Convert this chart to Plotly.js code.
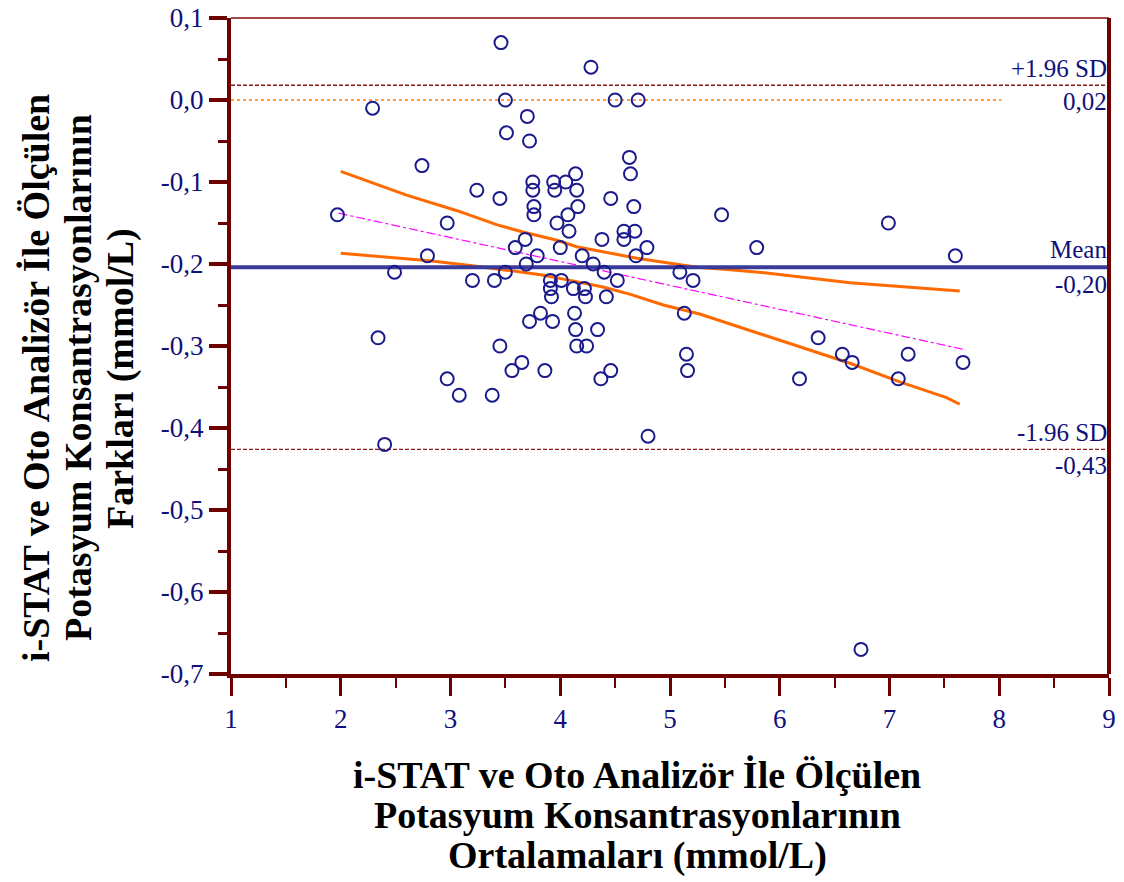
<!DOCTYPE html>
<html>
<head>
<meta charset="utf-8">
<script src="https://cdn.plot.ly/plotly-3.0.1.min.js"></script>
<style>html,body{margin:0;padding:0;background:#fff}#chart{width:1124px;height:882px}</style>
</head>
<body>
<div id="chart"></div>
<script>
// Bland-Altman data: averages (x) and differences (y)
const meanX = [1.97,2.29,2.34,2.40,2.49,2.74,2.79,2.97,2.97,3.08,3.20,3.24,3.38,3.40,3.45,3.45,3.46,3.50,3.50,3.51,
  3.56,3.59,3.65,3.68,3.69,3.70,3.72,3.72,3.75,3.75,3.76,3.76,3.79,3.82,3.86,3.91,3.91,3.92,3.93,3.94,
  3.95,3.97,4.00,4.01,4.05,4.07,4.08,4.12,4.13,4.14,4.15,4.16,4.14,4.15,4.20,4.22,4.23,4.24,4.28,4.30,
  4.34,4.37,4.38,4.40,4.42,4.46,4.46,4.50,4.52,4.58,4.58,4.63,4.64,4.67,4.68,4.69,4.71,4.79,4.80,5.09,
  5.13,5.15,5.16,5.21,5.47,5.79,6.18,6.35,6.57,6.66,6.74,6.99,7.08,7.17,7.60,7.67];
const diffY = [-0.14,-0.01,-0.29,-0.42,-0.21,-0.08,-0.19,-0.15,-0.34,-0.36,-0.22,-0.11,-0.36,-0.22,-0.12,-0.30,0.07,-0.21,0.00,-0.04,
  -0.33,-0.18,-0.32,-0.17,-0.20,-0.02,-0.05,-0.27,-0.10,-0.11,-0.13,-0.14,-0.19,-0.26,-0.33,-0.22,-0.23,-0.24,-0.27,-0.10,
  -0.11,-0.15,-0.18,-0.22,-0.10,-0.14,-0.16,-0.23,-0.26,-0.09,-0.11,-0.13,-0.28,-0.30,-0.19,-0.23,-0.24,-0.30,0.04,-0.20,
  -0.28,-0.34,-0.17,-0.21,-0.24,-0.12,-0.33,0.00,-0.22,-0.16,-0.17,-0.07,-0.09,-0.13,-0.16,-0.19,0.00,-0.18,-0.41,-0.21,
  -0.26,-0.31,-0.33,-0.22,-0.14,-0.18,-0.34,-0.29,-0.31,-0.32,-0.67,-0.15,-0.34,-0.31,-0.19,-0.32];

// Reference lines
const axisX = [1, 9];
const meanDiff = -0.204;
const upperLoA = 0.018;
const lowerLoA = -0.426;
const zeroLineX = [1, 8.02];
const zeroLineY = [0, 0];

// Regression line
const regX = [1.98, 7.67];
const regY = [-0.138, -0.304];

// Confidence band curves
const upperBandX = [2.00,2.27,2.60,3.06,3.42,3.66,3.97,4.15,4.39,4.70,5.00,5.25,5.55,5.88,6.64,7.28,7.64];
const upperBandY = [-0.087,-0.100,-0.116,-0.135,-0.152,-0.161,-0.171,-0.179,-0.185,-0.193,-0.199,-0.204,-0.207,-0.211,-0.223,-0.229,-0.233];
const lowerBandX = [2.00,2.45,2.81,3.20,3.57,3.82,4.09,4.39,4.64,4.94,5.27,5.73,6.18,6.64,7.10,7.52,7.64];
const lowerBandY = [-0.187,-0.192,-0.196,-0.202,-0.209,-0.213,-0.220,-0.228,-0.237,-0.250,-0.261,-0.281,-0.301,-0.321,-0.344,-0.363,-0.371];

// Tick labels
const xTickVals = [1,2,3,4,5,6,7,8,9];
const xTickText = ['1','2','3','4','5','6','7','8','9'];
const yTickVals = [0.1,0,-0.1,-0.2,-0.3,-0.4,-0.5,-0.6,-0.7];
const yTickText = ['0,1','0,0','-0,1','-0,2','-0,3','-0,4','-0,5','-0,6','-0,7'];

const labelUpper = ['+1.96 SD', '0,02'];
const labelMean = ['Mean', '-0,20'];
const labelLower = ['-1.96 SD', '-0,43'];

const xTitleLines = ['i-STAT ve Oto Analizör İle Ölçülen', 'Potasyum Konsantrasyonlarının', 'Ortalamaları (mmol/L)'];
const yTitleLines = ['i-STAT ve Oto Analizör İle Ölçülen', 'Potasyum Konsantrasyonlarının', 'Farkları (mmol/L)'];

const serif = 'Liberation Serif, Times New Roman, serif';
const navy = '#10107a';
const maroon = '#6e0000';

const traces = [
  {x: zeroLineX, y: zeroLineY, mode: 'lines', line: {color: '#ff7f00', width: 1.5, dash: 'dot'}, hoverinfo: 'skip'},
  {x: axisX, y: [upperLoA, upperLoA], mode: 'lines', line: {color: '#8b1a1a', width: 1.3, dash: '4px,2px'}, hoverinfo: 'skip'},
  {x: axisX, y: [lowerLoA, lowerLoA], mode: 'lines', line: {color: '#8b1a1a', width: 1.3, dash: '4px,2px'}, hoverinfo: 'skip'},
  {x: regX, y: regY, mode: 'lines', line: {color: '#ff00ff', width: 1.2, dash: 'dashdot'}, hoverinfo: 'skip'},
  {x: upperBandX, y: upperBandY, mode: 'lines', line: {color: '#ff6a00', width: 3}, hoverinfo: 'skip'},
  {x: lowerBandX, y: lowerBandY, mode: 'lines', line: {color: '#ff6a00', width: 3}, hoverinfo: 'skip'},
  {x: axisX, y: [meanDiff, meanDiff], mode: 'lines', line: {color: '#3a3a9a', width: 4}, hoverinfo: 'skip'},
  {x: meanX, y: diffY, mode: 'markers', marker: {symbol: 'circle-open', size: 13, color: '#1a1a8c', line: {width: 2}}}
];

const annFont = {family: serif, size: 25, color: navy};
const titleFont = {family: serif, size: 38, color: '#000000'};
const pw = 1124 - 231 - 15, ph = 882 - 18 - 208;
const px2x = p => (p - 231) / pw;
const py2y = p => (674 - p) / ph;

const annotations = [
  {x: 9, y: upperLoA, xref: 'x', yref: 'y', xanchor: 'right', yanchor: 'bottom', yshift: 1, text: labelUpper[0], showarrow: false, font: annFont},
  {x: 9, y: upperLoA, xref: 'x', yref: 'y', xanchor: 'right', yanchor: 'top', yshift: -1, text: labelUpper[1], showarrow: false, font: annFont},
  {x: 9, y: meanDiff, xref: 'x', yref: 'y', xanchor: 'right', yanchor: 'bottom', yshift: 2, text: labelMean[0], showarrow: false, font: annFont},
  {x: 9, y: meanDiff, xref: 'x', yref: 'y', xanchor: 'right', yanchor: 'top', yshift: -2, text: labelMean[1], showarrow: false, font: annFont},
  {x: 9, y: lowerLoA, xref: 'x', yref: 'y', xanchor: 'right', yanchor: 'bottom', yshift: 1, text: labelLower[0], showarrow: false, font: annFont},
  {x: 9, y: lowerLoA, xref: 'x', yref: 'y', xanchor: 'right', yanchor: 'top', yshift: -1, text: labelLower[1], showarrow: false, font: annFont}
];
const xTitleY = [775, 815, 855];
xTitleLines.forEach((t, i) => annotations.push({
  x: px2x(637), y: py2y(xTitleY[i]), xref: 'paper', yref: 'paper', xanchor: 'center', yanchor: 'middle',
  text: '<b>' + t + '</b>', showarrow: false, font: titleFont
}));
const yTitleX = [36, 78, 120];
yTitleLines.forEach((t, i) => annotations.push({
  x: px2x(yTitleX[i]), y: py2y(378), xref: 'paper', yref: 'paper', xanchor: 'center', yanchor: 'middle', textangle: -90,
  text: '<b>' + t + '</b>', showarrow: false, font: titleFont
}));

const layout = {
  width: 1124, height: 882,
  margin: {l: 231, r: 15, t: 18, b: 208},
  paper_bgcolor: '#ffffff', plot_bgcolor: '#ffffff',
  showlegend: false,
  font: {family: serif},
  xaxis: {
    range: [1, 9], tickvals: xTickVals, ticktext: xTickText,
    ticks: 'outside', ticklen: 18, tickwidth: 3, tickcolor: maroon,
    showline: true, linewidth: 4, linecolor: maroon,
    showgrid: false, zeroline: false,
    tickfont: {family: serif, size: 27, color: navy},
    minor: {tick0: 1, dtick: 0.5, ticks: 'outside', ticklen: 10, tickwidth: 2, tickcolor: maroon, showgrid: false}
  },
  yaxis: {
    range: [-0.7, 0.1], tickvals: yTickVals, ticktext: yTickText,
    ticks: 'outside', ticklen: 18, tickwidth: 4, tickcolor: maroon,
    showline: true, linewidth: 4, linecolor: maroon,
    showgrid: false, zeroline: false,
    tickfont: {family: serif, size: 27, color: navy},
    minor: {tick0: 0.1, dtick: 0.05, ticks: 'outside', ticklen: 9, tickwidth: 3, tickcolor: maroon, showgrid: false}
  },
  shapes: [
    {type: 'line', xref: 'paper', yref: 'paper', x0: 0, x1: 1, y0: 1, y1: 1, line: {color: '#a04848', width: 2}},
    {type: 'line', xref: 'paper', yref: 'paper', x0: 1, x1: 1, y0: 0, y1: 1, line: {color: maroon, width: 4}}
  ],
  annotations: annotations
};

Plotly.newPlot('chart', traces, layout, {displayModeBar: false, staticPlot: true});
</script>
</body>
</html>
